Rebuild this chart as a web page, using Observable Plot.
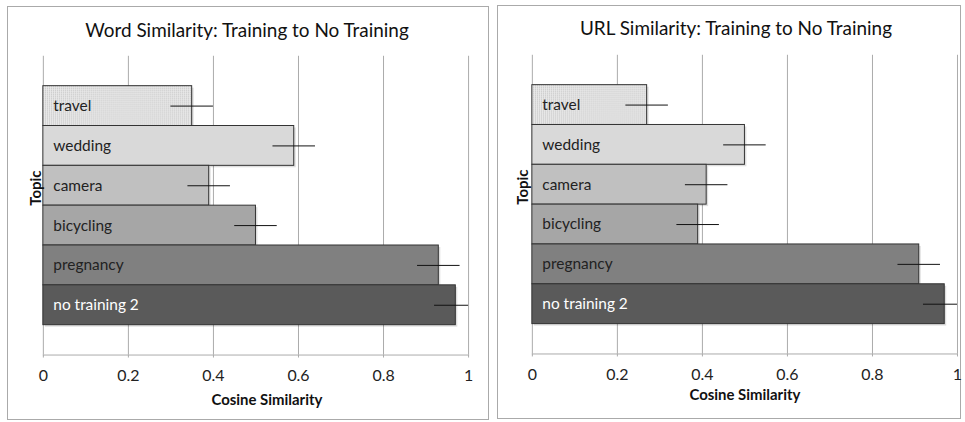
<!DOCTYPE html>
<html>
<head>
<meta charset="utf-8">
<script src="https://cdn.jsdelivr.net/npm/d3@7"></script>
<script src="https://cdn.jsdelivr.net/npm/@observablehq/plot@0.6"></script>
<style>
  html, body { margin: 0; padding: 0; background: #fff; width: 965px; height: 422px; overflow: hidden; }
  .panel { position: absolute; box-sizing: border-box; border: 1px solid #aaa; background: #fff; }
  .panel svg { position: absolute; left: -1px; top: -1px; overflow: visible; }
</style>
</head>
<body>
<div id="left" class="panel" style="left:7px; top:6px; width:482px; height:414px;"></div>
<div id="right" class="panel" style="left:497px; top:5px; width:464px; height:414px;"></div>
<script>
// ---- data ----
const topics = ["travel", "wedding", "camera", "bicycling", "pregnancy", "no training 2"];
const wordSimilarity = [0.35, 0.59, 0.39, 0.50, 0.93, 0.97];
const wordError = [0.05, 0.05, 0.05, 0.05, 0.05, 0.05];
const urlSimilarity = [0.27, 0.50, 0.41, 0.39, 0.91, 0.97];
const urlError = [0.05, 0.05, 0.05, 0.05, 0.05, 0.05];
const xTicks = [0, 0.2, 0.4, 0.6, 0.8, 1];
const xTickLabels = ["0", "0.2", "0.4", "0.6", "0.8", "1"];
const wordTitle = "Word Similarity: Training to No Training";
const urlTitle = "URL Similarity: Training to No Training";
const xLabel = "Cosine Similarity";
const yLabel = "Topic";

// ---- styles ----
const FONT = "Lato, 'Noto Sans', sans-serif";

function panel(el, id, sim, err, title, opts) {
  const data = topics.map((t, i) => ({
    topic: t, v: sim[i], lo: sim[i] - err[i], hi: Math.min(1, sim[i] + err[i])
  }));
  const fills = [`url(#stip-${id})`, "#d9d9d9", "#c0c0c0", "#a6a6a6", "#808080", "#5a5a5a"];
  const chart = Plot.plot({
    width: opts.width, height: 414,
    marginLeft: opts.marginLeft, marginRight: opts.marginRight, marginTop: 50, marginBottom: 64,
    style: { fontFamily: FONT, fontSize: "16px", color: "#222", background: "transparent" },
    x: { domain: [0, 1] },
    y: { domain: topics, paddingInner: 0, paddingOuter: 0.75, axis: null },
    color: { domain: topics, range: fills },
    marks: [
      Plot.gridX(xTicks, { stroke: "#aaa", strokeOpacity: 1 }),
      Plot.axisX(xTicks, {
        tickSize: 3, tickPadding: 12, stroke: "#aaa", fill: "#222",
        tickFormat: (d, i) => xTickLabels[xTicks.indexOf(d)], label: null, fontSize: 16
      }),
      Plot.frame({ anchor: "bottom", stroke: "#aaa" }),
      Plot.barX(data, { y: "topic", x: "v", fill: "#000", fillOpacity: 0.13, dx: 2, dy: 2 }),
      Plot.barX(data, { y: "topic", x: "v", fill: "topic", stroke: "#333", strokeWidth: 1 }),
      Plot.ruleY(data, { y: "topic", x1: "lo", x2: "hi", stroke: "#111", strokeWidth: 1 }),
      Plot.text(data, {
        y: "topic", x: 0, text: "topic", textAnchor: "start", dx: 10, fontSize: 15.5,
        fill: d => d.topic === "no training 2" ? "#fff" : "#222"
      }),
      Plot.text([title], { text: d => d, frameAnchor: "top", dy: opts.titleDy, dx: opts.titleDx, fontSize: 19, fill: "#111" }),
      Plot.text([xLabel], { text: d => d, frameAnchor: "bottom", dy: opts.xLabelDy, dx: opts.xLabelDx, fontSize: 15, fontWeight: "bold", fill: "#111" }),
      Plot.text([yLabel], { text: d => d, frameAnchor: "left", dx: opts.yLabelDx, rotate: -90, fontSize: 15, fontWeight: "bold", fill: "#111" })
    ]
  });
  // stipple pattern for the "travel" bar
  const ns = "http://www.w3.org/2000/svg";
  const defs = document.createElementNS(ns, "defs");
  defs.innerHTML = `<pattern id="stip-${id}" width="2" height="2" patternUnits="userSpaceOnUse">
      <rect width="2" height="2" fill="#ececec"></rect>
      <rect width="1" height="1" fill="#b4b4b4"></rect>
    </pattern>`;
  chart.insertBefore(defs, chart.firstChild);
  el.appendChild(chart);
}

panel(document.getElementById("left"), "word", wordSimilarity, wordError, wordTitle,
  { width: 482, marginLeft: 36, marginRight: 19, titleDx: -9, titleDy: -33, xLabelDx: 11, xLabelDy: 50, yLabelDx: -7 });
panel(document.getElementById("right"), "url", urlSimilarity, urlError, urlTitle,
  { width: 464, marginLeft: 35, marginRight: 2, titleDx: -9, titleDy: -34, xLabelDx: 0, xLabelDy: 46, yLabelDx: -9 });
</script>
</body>
</html>
